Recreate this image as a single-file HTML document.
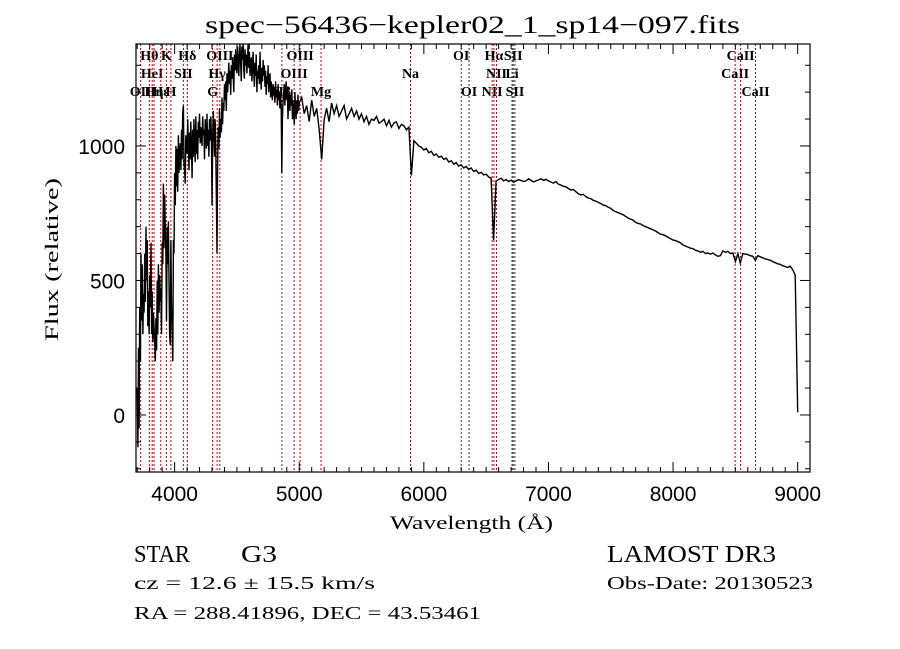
<!DOCTYPE html>
<html><head><meta charset="utf-8"><style>
html,body{margin:0;padding:0;background:#fff;}
svg{display:block;}
.serif{font-family:"Liberation Serif",serif;}
.sans{font-family:"Liberation Sans",sans-serif;}
</style></head><body>
<svg id="chart" width="900" height="649" viewBox="0 0 900 649">
<text class="serif" x="205" y="33" font-size="25" textLength="535" lengthAdjust="spacingAndGlyphs">spec−56436−kepler02_1_sp14−097.fits</text>
<g id="lines"></g>
<g id="spec"></g>
<rect x="136" y="44" width="674" height="428" fill="none" stroke="#000" stroke-width="1.2"/>
<g id="axes"></g>
<text class="serif" x="390" y="529" font-size="19" textLength="163" lengthAdjust="spacingAndGlyphs">Wavelength (Å)</text>
<text class="serif" x="0" y="0" font-size="19" textLength="163" lengthAdjust="spacingAndGlyphs" transform="translate(58 341) rotate(-90)">Flux (relative)</text>
<text class="serif" x="134" y="562" font-size="24" textLength="56" lengthAdjust="spacingAndGlyphs">STAR</text>
<text class="serif" x="241" y="562" font-size="24" textLength="36" lengthAdjust="spacingAndGlyphs">G3</text>
<text class="serif" x="134" y="589" font-size="18" textLength="241" lengthAdjust="spacingAndGlyphs">cz = 12.6 ± 15.5 km/s</text>
<text class="serif" x="134" y="619" font-size="18" textLength="347" lengthAdjust="spacingAndGlyphs">RA = 288.41896, DEC =  43.53461</text>
<text class="serif" x="607" y="562" font-size="24" textLength="169" lengthAdjust="spacingAndGlyphs">LAMOST DR3</text>
<text class="serif" x="607" y="589" font-size="18" textLength="206" lengthAdjust="spacingAndGlyphs">Obs-Date: 20130523</text>
</svg>
<script>
// Blue segment: 3700..4995 Å, one value per 5 Å (rows of 10 = 50 Å each)
const blueStart=3700, blueStep=5;
const fluxBlue=[
100,-120,250,-50,400,200,600,350,560,300,
450,380,600,420,700,500,650,330,460,300,
520,400,640,300,460,270,380,320,270,200,
360,240,500,300,560,380,520,420,470,300,
640,560,860,620,820,700,600,350,700,560,
720,500,300,260,650,400,320,200,650,600,
900,780,1000,850,990,830,1040,900,950,1010,
910,1060,950,1120,1150,930,910,860,1040,990,
970,1100,1020,910,1050,950,1090,990,880,1060,
960,1100,1000,940,1110,970,1060,950,1090,1030,
1120,1010,1070,1040,1000,1110,1040,1060,950,1100,
1050,990,1120,1000,1060,960,1100,1020,1110,1050,
780,1000,1130,1050,960,1100,1020,800,600,920,
1070,990,1140,1030,1100,1050,1180,1080,1160,1130,
1230,1170,1240,1130,1270,1200,1250,1310,1230,1280,
1190,1300,1250,1330,1270,1200,1340,1280,1360,1300,
1270,1370,1310,1260,1340,1380,1300,1240,1370,1320,
1380,1280,1250,1360,1300,1340,1270,1320,1380,1290,
1350,1260,1300,1330,1240,1290,1350,1270,1220,1310,
1260,1340,1200,1280,1250,1300,1230,1350,1270,1210,
1290,1240,1320,1260,1300,1220,1280,1190,1260,1230,
1300,1200,1250,1270,1180,1240,1210,1170,1230,1190,
1220,1160,1240,1180,1210,1150,1230,1170,1200,1140,
1190,1150,900,1100,1160,1200,1230,1150,1210,1240,
1170,1220,1100,1180,1200,1130,1190,1150,1210,1100,
1170,1120,1080,1200,1140,1100,1170,1120,1190,1130];
// Red segment: 5000..9000 Å, one value per 20 Å (rows of 10 = 200 Å each)
const redStart=5000, redStep=20;
const fluxRed=[
1160,1180,1120,1150,1090,1170,1110,1140,1060,950,
1100,1140,1090,1160,1120,1150,1110,1130,1150,1100,
1120,1140,1110,1130,1100,1120,1090,1110,1080,1100,
1095,1110,1085,1090,1100,1075,1095,1070,1085,1090,
1065,1080,1075,1060,1070,890,1020,1010,1000,995,
985,990,975,980,965,970,958,962,950,955,
940,945,932,938,925,930,918,924,912,918,
905,910,898,902,892,895,885,880,650,870,
875,880,870,875,868,873,865,870,875,872,
868,870,878,872,866,870,874,878,872,876,
870,866,862,868,858,855,850,848,842,836,
838,830,822,818,820,812,806,804,798,795,
790,786,780,778,772,768,760,756,752,748,
744,738,732,728,724,716,712,710,704,700,
696,692,688,684,678,672,670,666,660,655,
650,648,644,640,632,628,624,620,618,612,
610,605,608,600,602,598,602,595,590,592,
610,605,608,600,602,570,600,565,600,598,
596,592,590,575,592,588,584,580,578,575,
570,566,562,560,555,552,548,553,540,520,
10];
const lineWave=[3727,3797,3820,3835,3889,3934,3970,4070,4102,4305,4341,4363,4861,4959,5007,5175,5893,6300,6363,6548,6563,6583,6708,6717,6731,8498,8542,8662];
const lineLabel=["OII","Hθ","HeI","Hη","Hε","K","H","SII","Hδ","G","Hγ","OIII","Hβ","OIII","OIII","Mg","Na","OI","OI","NII","Hα","NII","Li","SII","SII","CaII","CaII","CaII"];
const lineRow=[2,0,1,2,2,0,2,1,0,2,1,0,2,1,0,2,1,0,2,2,0,1,1,0,2,1,0,2];
const lineKind=["a","a","a","a","a","a","a","e","a","a","a","a","a","a","a","a","a","e","e","a","a","a","e","e","e","a","a","e"];
const xTicks=[4000,5000,6000,7000,8000,9000];
const yTicks=[0,500,1000];

const X0=136,X1=810,Y0=472,Y1=44,WMIN=3690,WMAX=9099,FMIN=-212,FMAX=1379;
const xs=w=>X0+(w-WMIN)/(WMAX-WMIN)*(X1-X0);
const ys=f=>Y0-(f-FMIN)/(FMAX-FMIN)*(Y0-Y1);
const NS="http://www.w3.org/2000/svg";
function mk(t,a,p){const e=document.createElementNS(NS,t);for(const k in a)e.setAttribute(k,a[k]);p.appendChild(e);return e;}
const gl=document.getElementById('lines');
const rowY=[60,78,96];
lineWave.forEach((w,i)=>{
 const x=xs(w);
 const l=mk('line',{x1:x,x2:x,y1:Y1,y2:Y0,stroke:lineKind[i]==='a'?'#c00000':'#333','stroke-width':1,'stroke-dasharray':'2,2'},gl);
 
 
 const t=mk('text',{x:x,y:rowY[lineRow[i]],'font-size':14,'font-weight':'bold','text-anchor':'middle','class':'serif'},gl);
 t.textContent=lineLabel[i];
 
 
});
const pts=[];
fluxBlue.forEach((f,i)=>pts.push([blueStart+i*blueStep,f]));
fluxRed.forEach((f,i)=>pts.push([redStart+i*redStep,f]));
const gs=document.getElementById('spec');
let d='';
pts.forEach((p,i)=>{d+=(i?'L':'M')+xs(p[0]).toFixed(1)+','+Math.min(Y0,Math.max(Y1,ys(p[1]))).toFixed(1);});
const path=mk('path',{d:d,fill:'none',stroke:'#000','stroke-width':1.4},gs);


const ga=document.getElementById('axes');
for(let w=3700;w<=9000;w+=100){
 const x=xs(w),maj=w%1000===0,L=maj?10:5;
 mk('line',{x1:x,x2:x,y1:Y0,y2:Y0-L,stroke:'#000'},ga);
 mk('line',{x1:x,x2:x,y1:Y1,y2:Y1+L,stroke:'#000'},ga);
}
xTicks.forEach(w=>{
 const t=mk('text',{x:xs(w),y:501,'font-size':21,'text-anchor':'middle','class':'sans'},ga);
 t.textContent=w;
 
 
});
for(let f=-200;f<=1300;f+=100){
 const y=ys(f),maj=f%500===0,L=maj?10:5;
 mk('line',{x1:X0,x2:X0+L,y1:y,y2:y,stroke:'#000'},ga);
 mk('line',{x1:X1,x2:X1-L,y1:y,y2:y,stroke:'#000'},ga);
}
yTicks.forEach(f=>{
 const t=mk('text',{x:125,y:ys(f)+8,'font-size':21,'text-anchor':'end','class':'sans'},ga);
 t.textContent=f;
 
 
});
</script>
</body></html>
